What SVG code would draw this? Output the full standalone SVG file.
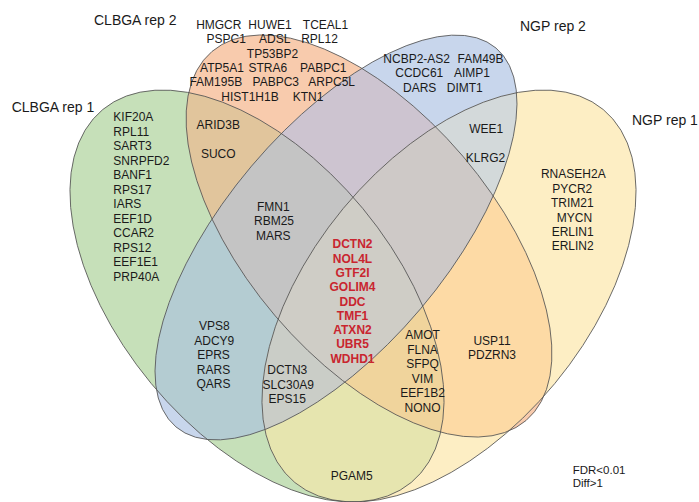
<svg xmlns="http://www.w3.org/2000/svg" xmlns:xlink="http://www.w3.org/1999/xlink" width="699" height="502" viewBox="0 0 699 502">
<style>
text{font-family:"Liberation Sans",Arial,Helvetica,sans-serif;font-size:12px;fill:#1a1a1a}
.t{font-size:14px}
.m{text-anchor:middle}
.r{font-weight:bold;fill:#c9252f;text-anchor:middle}
.n{font-size:11.5px}
.ol{fill:none;stroke:#555;stroke-width:0.8}
</style>
<defs>
<ellipse id="eA" cx="257" cy="296" rx="242" ry="137.3" transform="rotate(50.4 257 296)"/>
<ellipse id="eB" cx="369" cy="236" rx="242.3" ry="123.2" transform="rotate(49.6 369 236)"/>
<ellipse id="eC" cx="336" cy="237.5" rx="248" ry="110.6" transform="rotate(-49.8 336 237.5)"/>
<ellipse id="eD" cx="449" cy="296" rx="242" ry="137.3" transform="rotate(-50.4 449 296)"/>
<clipPath id="kA"><use xlink:href="#eA"/></clipPath>
<clipPath id="kB"><use xlink:href="#eB"/></clipPath>
<clipPath id="kC"><use xlink:href="#eC"/></clipPath>
<clipPath id="kD"><use xlink:href="#eD"/></clipPath>
</defs>
<rect width="699" height="502" fill="#ffffff"/>
<g id="regions">
<use xlink:href="#eA" fill="#c6e0b9"/>
<use xlink:href="#eB" fill="#f8cbad"/>
<use xlink:href="#eC" fill="#c8d6ec"/>
<use xlink:href="#eD" fill="#fdeec4"/>
<g clip-path="url(#kA)">
<use xlink:href="#eB" fill="#e1c59c"/>
<use xlink:href="#eC" fill="#b4ccd2"/>
<use xlink:href="#eD" fill="#e6e5af"/>
</g>
<g clip-path="url(#kB)">
<use xlink:href="#eC" fill="#cdc4d0"/>
<use xlink:href="#eD" fill="#fddaa5"/>
</g>
<g clip-path="url(#kC)"><use xlink:href="#eD" fill="#d3d9da"/></g>
<g clip-path="url(#kA)"><g clip-path="url(#kB)"><use xlink:href="#eC" fill="#c4c4c4"/><use xlink:href="#eD" fill="#f0d49c"/></g></g>
<g clip-path="url(#kA)"><g clip-path="url(#kC)"><use xlink:href="#eD" fill="#cacdc7"/></g></g>
<g clip-path="url(#kB)"><g clip-path="url(#kC)"><use xlink:href="#eD" fill="#cec9c7"/></g></g>
<g clip-path="url(#kA)"><g clip-path="url(#kB)"><g clip-path="url(#kC)"><use xlink:href="#eD" fill="#cfcdc6"/></g></g></g>
</g>
<g id="set-clbga-rep1">
<use xlink:href="#eA" class="ol"/>
<text class="t" x="11.7" y="111.7">CLBGA rep 1</text>
</g>
<g id="set-clbga-rep2">
<use xlink:href="#eB" class="ol"/>
<text class="t" x="94" y="24.5">CLBGA rep 2</text>
</g>
<g id="set-ngp-rep2">
<use xlink:href="#eC" class="ol"/>
<text class="t" x="520" y="31">NGP rep 2</text>
</g>
<g id="set-ngp-rep1">
<use xlink:href="#eD" class="ol"/>
<text class="t" x="632" y="125">NGP rep 1</text>
</g>
<g id="only-clbga-rep1">
<text x="113.3" y="121">KIF20A</text>
<text x="113.3" y="135.5">RPL11</text>
<text x="113.3" y="150">SART3</text>
<text x="113.3" y="164.5">SNRPFD2</text>
<text x="113.3" y="179">BANF1</text>
<text x="113.3" y="193.5">RPS17</text>
<text x="113.3" y="208">IARS</text>
<text x="113.3" y="222.5">EEF1D</text>
<text x="113.3" y="237">CCAR2</text>
<text x="113.3" y="251.5">RPS12</text>
<text x="113.3" y="266">EEF1E1</text>
<text x="113.3" y="280.5">PRP40A</text>
</g>
<g id="only-clbga-rep2" class="m">
<text class="m" x="218.8" y="29">HMGCR</text>
<text class="m" x="270" y="29">HUWE1</text>
<text class="m" x="325.5" y="29">TCEAL1</text>
<text class="m" x="226.3" y="43.3">PSPC1</text>
<text class="m" x="274.7" y="43.3">ADSL</text>
<text class="m" x="319.5" y="43.3">RPL12</text>
<text class="m" x="272.5" y="57.5">TP53BP2</text>
<text class="m" x="222" y="72">ATP5A1</text>
<text class="m" x="267.8" y="72">STRA6</text>
<text class="m" x="323.3" y="72">PABPC1</text>
<text class="m" x="215.8" y="86.2">FAM195B</text>
<text class="m" x="275.8" y="86.2">PABPC3</text>
<text class="m" x="331.7" y="86.2">ARPC5L</text>
<text class="m" x="250" y="101">HIST1H1B</text>
<text class="m" x="308" y="101">KTN1</text>
</g>
<g id="only-ngp-rep2">
<text class="m" x="416.7" y="63.3">NCBP2-AS2</text>
<text class="m" x="480.5" y="63.3">FAM49B</text>
<text class="m" x="419.3" y="77">CCDC61</text>
<text class="m" x="472" y="77">AIMP1</text>
<text class="m" x="419.7" y="91.7">DARS</text>
<text class="m" x="464.8" y="91.7">DIMT1</text>
</g>
<g id="only-ngp-rep1">
<text class="m" x="573.3" y="178.3">RNASEH2A</text>
<text class="m" x="572.3" y="192.7">PYCR2</text>
<text class="m" x="572.3" y="207.1">TRIM21</text>
<text class="m" x="574.5" y="221.5">MYCN</text>
<text class="m" x="572.7" y="235.9">ERLIN1</text>
<text class="m" x="572.7" y="250.3">ERLIN2</text>
</g>
<g id="clbga1-clbga2">
<text class="m" x="218.3" y="129.3">ARID3B</text>
<text class="m" x="218.3" y="157.7">SUCO</text>
</g>
<g id="ngp2-ngp1">
<text class="m" x="486.3" y="132.6">WEE1</text>
<text class="m" x="485.5" y="161.6">KLRG2</text>
</g>
<g id="clbga1-clbga2-ngp2">
<text class="m" x="273.3" y="211">FMN1</text>
<text class="m" x="274" y="225.3">RBM25</text>
<text class="m" x="273.3" y="240">MARS</text>
</g>
<g id="all-four">
<text class="r" x="352.5" y="248.3">DCTN2</text>
<text class="r" x="352.5" y="262.6">NOL4L</text>
<text class="r" x="352.5" y="276.9">GTF2I</text>
<text class="r" x="352.5" y="291.2">GOLIM4</text>
<text class="r" x="352.5" y="305.5">DDC</text>
<text class="r" x="352.5" y="319.8">TMF1</text>
<text class="r" x="352.5" y="334.1">ATXN2</text>
<text class="r" x="352.5" y="348.4">UBR5</text>
<text class="r" x="352.5" y="362.7">WDHD1</text>
</g>
<g id="clbga1-ngp2">
<text class="m" x="214.3" y="330.3">VPS8</text>
<text class="m" x="214.3" y="344.8">ADCY9</text>
<text class="m" x="213.5" y="359.3">EPRS</text>
<text class="m" x="213.5" y="373.8">RARS</text>
<text class="m" x="213.5" y="388.3">QARS</text>
</g>
<g id="clbga1-ngp2-ngp1">
<text class="m" x="287.3" y="374.3">DCTN3</text>
<text class="m" x="288.3" y="388.8">SLC30A9</text>
<text class="m" x="287.3" y="403.3">EPS15</text>
</g>
<g id="clbga1-clbga2-ngp1">
<text class="m" x="422.5" y="339.3">AMOT</text>
<text class="m" x="422.5" y="353.8">FLNA</text>
<text class="m" x="422.5" y="368.3">SFPQ</text>
<text class="m" x="422.5" y="382.8">VIM</text>
<text class="m" x="422.5" y="397.3">EEF1B2</text>
<text class="m" x="422.5" y="411.8">NONO</text>
</g>
<g id="clbga2-ngp1">
<text class="m" x="492" y="345">USP11</text>
<text class="m" x="492" y="359.3">PDZRN3</text>
</g>
<g id="clbga1-ngp1">
<text class="m" x="351.7" y="480.3">PGAM5</text>
</g>
<g id="legend">
<text class="n" x="572.7" y="473.5">FDR&lt;0.01</text>
<text class="n" x="572.7" y="486.5">Diff&gt;1</text>
</g>
</svg>
